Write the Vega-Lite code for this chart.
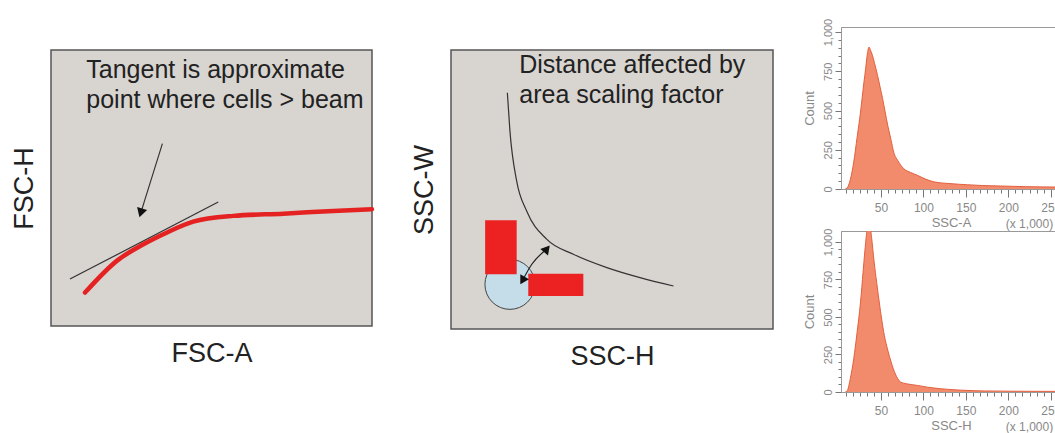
{
  "$schema": "https://vega.github.io/schema/vega-lite/v6.json",
  "background": "white",
  "padding": {"left": 9, "top": 17, "right": 0, "bottom": 0},
  "config": {"font": "Liberation Sans", "view": {"stroke": null}},
  "datasets": {
    "p1curve": [
      {"x": 10.6, "y": 12.1}, {"x": 20.5, "y": 23.6}, {"x": 28.8, "y": 29.6}, {"x": 36.0, "y": 33.8},
      {"x": 44.3, "y": 37.8}, {"x": 56.8, "y": 39.9}, {"x": 72.4, "y": 40.7}, {"x": 87.9, "y": 41.7}, {"x": 100, "y": 42.3}
    ],
    "p1tangent": [{"x": 5.9, "y": 17.0}, {"x": 52.1, "y": 44.9}],
    "p1arrow": [{"x": 27.97, "y": 41.0}, {"x": 34.7, "y": 66.1}],
    "p1head": [{"x": 27.97, "y": 41.0}],
    "p1text": [
      {"x": 11.0, "y": 90.0, "t": "Tangent is approximate"},
      {"x": 11.0, "y": 79.1, "t": "point where cells > beam"}
    ],
    "p2curve": [
      {"x": 17.5, "y": 84.7}, {"x": 18.3, "y": 71.0}, {"x": 20.4, "y": 53.0}, {"x": 23.5, "y": 42.3},
      {"x": 29.7, "y": 32.2}, {"x": 38.0, "y": 26.8}, {"x": 48.4, "y": 22.0}, {"x": 58.7, "y": 18.4}, {"x": 69.1, "y": 15.4}
    ],
    "p2circle": [{"x": 18.3, "y": 16.0}],
    "p2rects": [
      {"x": 10.6, "x2": 20.4, "y": 19.6, "y2": 39.0},
      {"x": 24.0, "x2": 41.1, "y": 11.8, "y2": 19.8}
    ],
    "p2arrow": [{"x": 22.2, "y": 17.4}, {"x": 25.1, "y": 23.2}, {"x": 29.8, "y": 28.7}],
    "p2headUp": [{"x": 29.8, "y": 28.7}],
    "p2headDown": [{"x": 22.2, "y": 17.4}],
    "p2text": [
      {"x": 21.2, "y": 91.9, "t": "Distance affected by"},
      {"x": 21.2, "y": 81.1, "t": "area scaling factor"}
    ],
    "hA": [
      {"x": 8, "c": 0}, {"x": 10, "c": 5}, {"x": 14, "c": 60}, {"x": 18, "c": 172}, {"x": 22, "c": 330},
      {"x": 26, "c": 490}, {"x": 30, "c": 680}, {"x": 32, "c": 766}, {"x": 34, "c": 860}, {"x": 36, "c": 904},
      {"x": 38, "c": 880}, {"x": 40, "c": 852}, {"x": 43, "c": 790}, {"x": 46, "c": 724}, {"x": 49, "c": 650},
      {"x": 52, "c": 575}, {"x": 55, "c": 490}, {"x": 58, "c": 406}, {"x": 62, "c": 310}, {"x": 65, "c": 236},
      {"x": 70, "c": 180}, {"x": 77, "c": 129}, {"x": 85, "c": 105}, {"x": 93, "c": 87}, {"x": 103, "c": 62},
      {"x": 113, "c": 45}, {"x": 130, "c": 35}, {"x": 152, "c": 27}, {"x": 170, "c": 22}, {"x": 191, "c": 19},
      {"x": 220, "c": 15}, {"x": 262, "c": 12}
    ],
    "hH": [
      {"x": 8, "c": 0}, {"x": 10, "c": 5}, {"x": 14, "c": 90}, {"x": 18, "c": 222}, {"x": 22, "c": 400},
      {"x": 26, "c": 600}, {"x": 29, "c": 800}, {"x": 31, "c": 933}, {"x": 33, "c": 1050}, {"x": 35, "c": 1120},
      {"x": 37, "c": 1110}, {"x": 39, "c": 1030}, {"x": 42, "c": 867}, {"x": 45, "c": 730}, {"x": 48, "c": 600},
      {"x": 51, "c": 480}, {"x": 54, "c": 378}, {"x": 58, "c": 280}, {"x": 62, "c": 200}, {"x": 67, "c": 120},
      {"x": 73, "c": 67}, {"x": 80, "c": 55}, {"x": 93, "c": 44}, {"x": 105, "c": 32}, {"x": 120, "c": 22},
      {"x": 145, "c": 12}, {"x": 172, "c": 7}, {"x": 210, "c": 5}, {"x": 262, "c": 4}
    ],
    "hAlab": [{"x": 197, "c": -221, "t": "(x 1,000)"}],
    "hHlab": [{"x": 197, "c": -231, "t": "(x 1,000)"}],
    "spacer": [{"k": 1}]
  },
  "hconcat": [
    {
      "vconcat": [
        {
          "width": 10,
          "height": 22,
          "data": {"name": "spacer"},
          "mark": {"type": "point", "opacity": 0},
          "view": {"stroke": null, "fill": null}
        },
        {
          "hconcat": [
            {
              "width": 321,
              "height": 276,
              "view": {"fill": "#d8d4d0", "stroke": "#555555", "strokeWidth": 1.5},
              "encoding": {
                "x": {"field": "x", "type": "quantitative", "scale": {"domain": [0, 100], "nice": false, "zero": false},
                  "axis": {"title": "FSC-A", "domain": false, "ticks": false, "labels": false, "grid": false, "titleFontSize": 27, "titleFontWeight": "normal", "titleColor": "#222222", "titlePadding": 14}},
                "y": {"field": "y", "type": "quantitative", "scale": {"domain": [0, 100], "nice": false, "zero": false},
                  "axis": {"title": "FSC-H", "domain": false, "ticks": false, "labels": false, "grid": false, "titleFontSize": 27, "titleFontWeight": "normal", "titleColor": "#222222", "titlePadding": 13}}
              },
              "layer": [
                {"data": {"name": "p1tangent"}, "mark": {"type": "line", "color": "#333333", "strokeWidth": 1.2}, "encoding": {}},
                {"data": {"name": "p1curve"}, "mark": {"type": "line", "color": "#e52222", "strokeWidth": 4.5, "interpolate": "monotone", "strokeCap": "round"}, "encoding": {}},
                {"data": {"name": "p1arrow"}, "mark": {"type": "line", "color": "#333333", "strokeWidth": 1.2}, "encoding": {}},
                {"data": {"name": "p1head"}, "mark": {"type": "point", "shape": "triangle-down", "filled": true, "color": "#111111", "size": 110, "angle": 17, "opacity": 1}},
                {"data": {"name": "p1text"}, "mark": {"type": "text", "align": "left", "baseline": "alphabetic", "fontSize": 25, "color": "#222222"}, "encoding": {"text": {"field": "t"}}}
              ]
            },
            {
              "width": 322,
              "height": 279,
              "view": {"fill": "#d8d4d0", "stroke": "#555555", "strokeWidth": 1.5},
              "encoding": {
                "x": {"field": "x", "type": "quantitative", "scale": {"domain": [0, 100], "nice": false, "zero": false},
                  "axis": {"title": "SSC-H", "domain": false, "ticks": false, "labels": false, "grid": false, "titleFontSize": 27, "titleFontWeight": "normal", "titleColor": "#222222", "titlePadding": 14}},
                "y": {"field": "y", "type": "quantitative", "scale": {"domain": [0, 100], "nice": false, "zero": false},
                  "axis": {"title": "SSC-W", "domain": false, "ticks": false, "labels": false, "grid": false, "titleFontSize": 27, "titleFontWeight": "normal", "titleColor": "#222222", "titlePadding": 13}}
              },
              "layer": [
                {"data": {"name": "p2curve"}, "mark": {"type": "line", "color": "#333333", "strokeWidth": 1.2, "interpolate": "monotone"}, "encoding": {}},
                {"data": {"name": "p2circle"}, "mark": {"type": "point", "shape": "circle", "filled": true, "fill": "#c5dce9", "stroke": "#444444", "strokeWidth": 1, "size": 2500, "opacity": 1}},
                {"data": {"name": "p2rects"}, "mark": {"type": "rect", "color": "#ec2222"},
                  "encoding": {"x": {"field": "x", "type": "quantitative"}, "x2": {"field": "x2"}, "y": {"field": "y", "type": "quantitative"}, "y2": {"field": "y2"}}},
                {"data": {"name": "p2arrow"}, "mark": {"type": "line", "color": "#222222", "strokeWidth": 1.2, "interpolate": "monotone"}, "encoding": {}},
                {"data": {"name": "p2headUp"}, "mark": {"type": "point", "shape": "triangle-up", "filled": true, "color": "#111111", "size": 100, "angle": 40, "opacity": 1}},
                {"data": {"name": "p2headDown"}, "mark": {"type": "point", "shape": "triangle-up", "filled": true, "color": "#111111", "size": 100, "angle": 210, "opacity": 1}},
                {"data": {"name": "p2text"}, "mark": {"type": "text", "align": "left", "baseline": "alphabetic", "fontSize": 25, "color": "#222222"}, "encoding": {"text": {"field": "t"}}}
              ]
            }
          ],
          "spacing": 27
        }
      ],
      "spacing": 0
    },
    {
      "vconcat": [
        {
          "width": 220,
          "height": 162,
          "view": {"fill": "white", "stroke": "#999999", "strokeWidth": 1},
          "layer": [
            {"data": {"name": "hA"},
              "mark": {"type": "area", "color": "#f28a6c", "opacity": 1, "interpolate": "monotone", "clip": true, "line": {"color": "#e2603e", "strokeWidth": 1}},
              "encoding": {
                "x": {"field": "x", "type": "quantitative", "scale": {"domain": [3, 262], "nice": false, "zero": false},
                  "axis": {"title": "SSC-A", "values": [8.333, 16.667, 25, 33.333, 41.667, 50, 58.333, 66.667, 75, 83.333, 91.667, 100, 108.333, 116.667, 125, 133.333, 141.667, 150, 158.333, 166.667, 175, 183.333, 191.667, 200, 208.333, 216.667, 225, 233.333, 241.667, 250, 258.333],
                    "tickCount": 100,
                    "labelExpr": "abs(datum.value / 50 - round(datum.value / 50)) < 0.001 ? format(round(datum.value), 'd') : ''", "labelOverlap": false, "labelFlush": false,
                    "tickSize": {"condition": {"test": "abs(datum.value / 50 - round(datum.value / 50)) < 0.001", "value": 8}, "value": 4},
                    "tickColor": "#777777", "domainColor": "#999999", "grid": false, "labelFontSize": 12, "labelColor": "#888888", "labelPadding": 5,
                    "titleFontSize": 13, "titleFontWeight": "normal", "titleColor": "#888888", "titlePadding": 3}},
                "y": {"field": "c", "type": "quantitative", "scale": {"domain": [0, 1032], "nice": false},
                  "axis": {"title": "Count", "values": [0, 50, 100, 150, 200, 250, 300, 350, 400, 450, 500, 550, 600, 650, 700, 750, 800, 850, 900, 950, 1000],
                    "tickCount": 100,
                    "labelExpr": "datum.value % 250 === 0 ? format(datum.value, ',') : ''", "labelOverlap": false, "labelFlush": false, "labelAngle": -90,
                    "tickSize": {"condition": {"test": "datum.value % 250 === 0", "value": 6}, "value": 3},
                    "tickColor": "#777777", "domainColor": "#999999", "grid": false, "labelFontSize": 11, "labelColor": "#888888", "labelPadding": 2,
                    "titleFontSize": 13, "titleFontWeight": "normal", "titleColor": "#888888", "titlePadding": 6}}
              }},
            {"data": {"name": "hAlab"},
              "mark": {"type": "text", "align": "left", "baseline": "middle", "fontSize": 12, "color": "#888888", "clip": false},
              "encoding": {
                "x": {"field": "x", "type": "quantitative", "scale": {"domain": [3, 262], "nice": false, "zero": false}},
                "y": {"field": "c", "type": "quantitative", "scale": {"domain": [0, 1032], "nice": false}},
                "text": {"field": "t"}
              }}
          ]
        },
        {
          "width": 220,
          "height": 161,
          "view": {"fill": "white", "stroke": "#999999", "strokeWidth": 1},
          "layer": [
            {"data": {"name": "hH"},
              "mark": {"type": "area", "color": "#f28a6c", "opacity": 1, "interpolate": "monotone", "clip": true, "line": {"color": "#e2603e", "strokeWidth": 1}},
              "encoding": {
                "x": {"field": "x", "type": "quantitative", "scale": {"domain": [3, 262], "nice": false, "zero": false},
                  "axis": {"title": "SSC-H", "values": [8.333, 16.667, 25, 33.333, 41.667, 50, 58.333, 66.667, 75, 83.333, 91.667, 100, 108.333, 116.667, 125, 133.333, 141.667, 150, 158.333, 166.667, 175, 183.333, 191.667, 200, 208.333, 216.667, 225, 233.333, 241.667, 250, 258.333],
                    "tickCount": 100,
                    "labelExpr": "abs(datum.value / 50 - round(datum.value / 50)) < 0.001 ? format(round(datum.value), 'd') : ''", "labelOverlap": false, "labelFlush": false,
                    "tickSize": {"condition": {"test": "abs(datum.value / 50 - round(datum.value / 50)) < 0.001", "value": 8}, "value": 4},
                    "tickColor": "#777777", "domainColor": "#999999", "grid": false, "labelFontSize": 12, "labelColor": "#888888", "labelPadding": 5,
                    "titleFontSize": 13, "titleFontWeight": "normal", "titleColor": "#888888", "titlePadding": 3}},
                "y": {"field": "c", "type": "quantitative", "scale": {"domain": [0, 1073], "nice": false},
                  "axis": {"title": "Count", "values": [0, 50, 100, 150, 200, 250, 300, 350, 400, 450, 500, 550, 600, 650, 700, 750, 800, 850, 900, 950, 1000],
                    "tickCount": 100,
                    "labelExpr": "datum.value % 250 === 0 ? format(datum.value, ',') : ''", "labelOverlap": false, "labelFlush": false, "labelAngle": -90,
                    "tickSize": {"condition": {"test": "datum.value % 250 === 0", "value": 6}, "value": 3},
                    "tickColor": "#777777", "domainColor": "#999999", "grid": false, "labelFontSize": 11, "labelColor": "#888888", "labelPadding": 2,
                    "titleFontSize": 13, "titleFontWeight": "normal", "titleColor": "#888888", "titlePadding": 6}}
              }},
            {"data": {"name": "hHlab"},
              "mark": {"type": "text", "align": "left", "baseline": "middle", "fontSize": 12, "color": "#888888", "clip": false},
              "encoding": {
                "x": {"field": "x", "type": "quantitative", "scale": {"domain": [3, 262], "nice": false, "zero": false}},
                "y": {"field": "c", "type": "quantitative", "scale": {"domain": [0, 1073], "nice": false}},
                "text": {"field": "t"}
              }}
          ]
        }
      ],
      "spacing": -4
    }
  ],
  "spacing": 28
}
